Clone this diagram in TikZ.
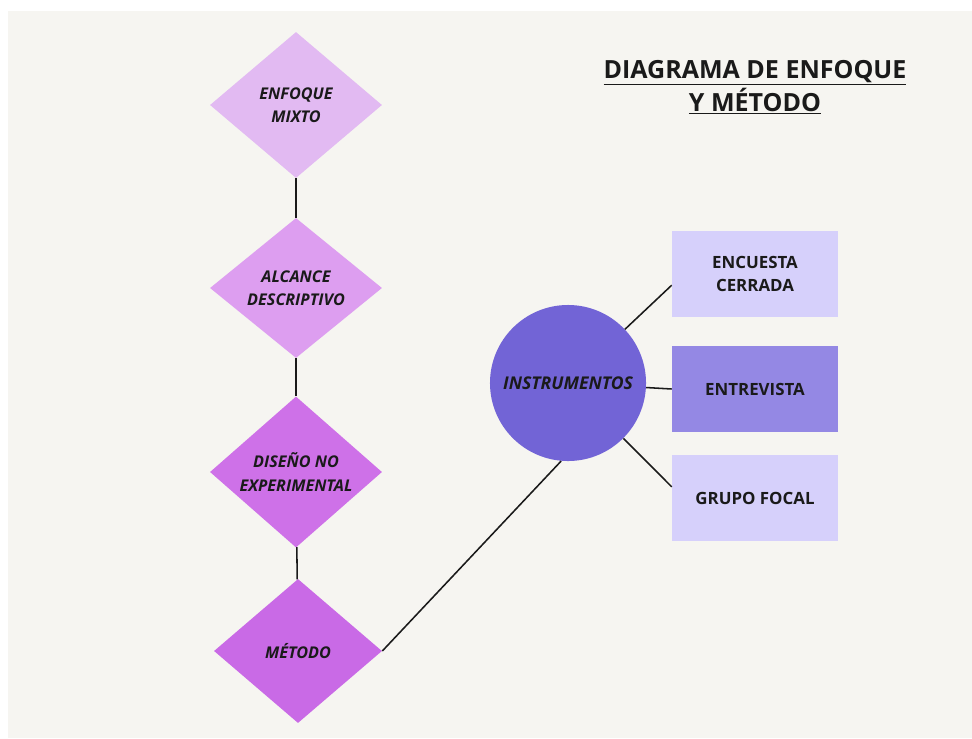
\documentclass[tikz,border=0pt]{standalone}
\usepackage{fontspec}
\setmainfont{Open Sans}
\usetikzlibrary{shapes.geometric}
\definecolor{fondo}{HTML}{F6F5F1}
\definecolor{lila1}{HTML}{E2BAF2}
\definecolor{lila2}{HTML}{DD9EF0}
\definecolor{lila3}{HTML}{CE71E8}
\definecolor{lila4}{HTML}{C96AE6}
\definecolor{violeta}{HTML}{7264D6}
\definecolor{caja1}{HTML}{D6D0FB}
\definecolor{caja2}{HTML}{9488E4}
\definecolor{tinta}{HTML}{1A1A1A}
\tikzset{
	rombo/.style={diamond, inner sep=0pt, minimum width=4.3cm, minimum height=3.65cm, align=center,
		text=tinta, font=\fontsize{11.5}{16.5}\selectfont\bfseries\itshape},
	caja/.style={rectangle, inner sep=0pt, minimum width=4.15cm, minimum height=2.15cm, align=center,
		text=tinta, font=\fontsize{12}{16.5}\selectfont\bfseries},
	linea/.style={draw=tinta, line width=1.1pt}
}
\begin{document}
\begin{tikzpicture}[x=0.025cm, y=-0.025cm, every edge/.style={linea}]
		\useasboundingbox[fill=white] (0,0) rectangle (972,738);
		\fill[fondo] (8,11) rectangle (972,738);
		\node (Em) at (296,105) [rombo, fill=lila1] {ENFOQUE\\MIXTO};
		\node (Al) at (296,288) [rombo, fill=lila2, minimum height=3.5cm] {ALCANCE\\DESCRIPTIVO} edge (Em);
		\node (Di) at (296,472) [rombo, fill=lila3] {DISEÑO NO\\EXPERIMENTAL} edge (Al);
		\node (Me) at (298,651) [rombo, fill=lila4, minimum width=4.2cm, minimum height=3.6cm] {MÉTODO} edge (Di);
		\node (In) at (568,383) [circle, fill=violeta, minimum size=3.9cm, inner sep=0pt, text=tinta,
			font=\fontsize{12.5}{15}\selectfont\bfseries\itshape] {INSTRUMENTOS};
		\node (En) at (755,274) [caja, fill=caja1] {ENCUESTA\\CERRADA};
		\node (Ev) at (755,389) [caja, fill=caja2] {ENTREVISTA};
		\node (Gr) at (755,498) [caja, fill=caja1] {GRUPO FOCAL};
		\draw[linea] (Me.east) -- (In.265);
		\draw[linea] (In) -- ([yshift=-0.28cm]En.west);
		\draw[linea] (In) -- (Ev.west);
		\draw[linea] (In) -- ([yshift=0.28cm]Gr.west);
		\node (Ti) at (755,87) [align=center, text=tinta, font=\fontsize{17.8}{23.5}\selectfont\bfseries]
			{\underline{DIAGRAMA DE ENFOQUE}\\\underline{Y MÉTODO}};
	\end{tikzpicture}
\end{document}
